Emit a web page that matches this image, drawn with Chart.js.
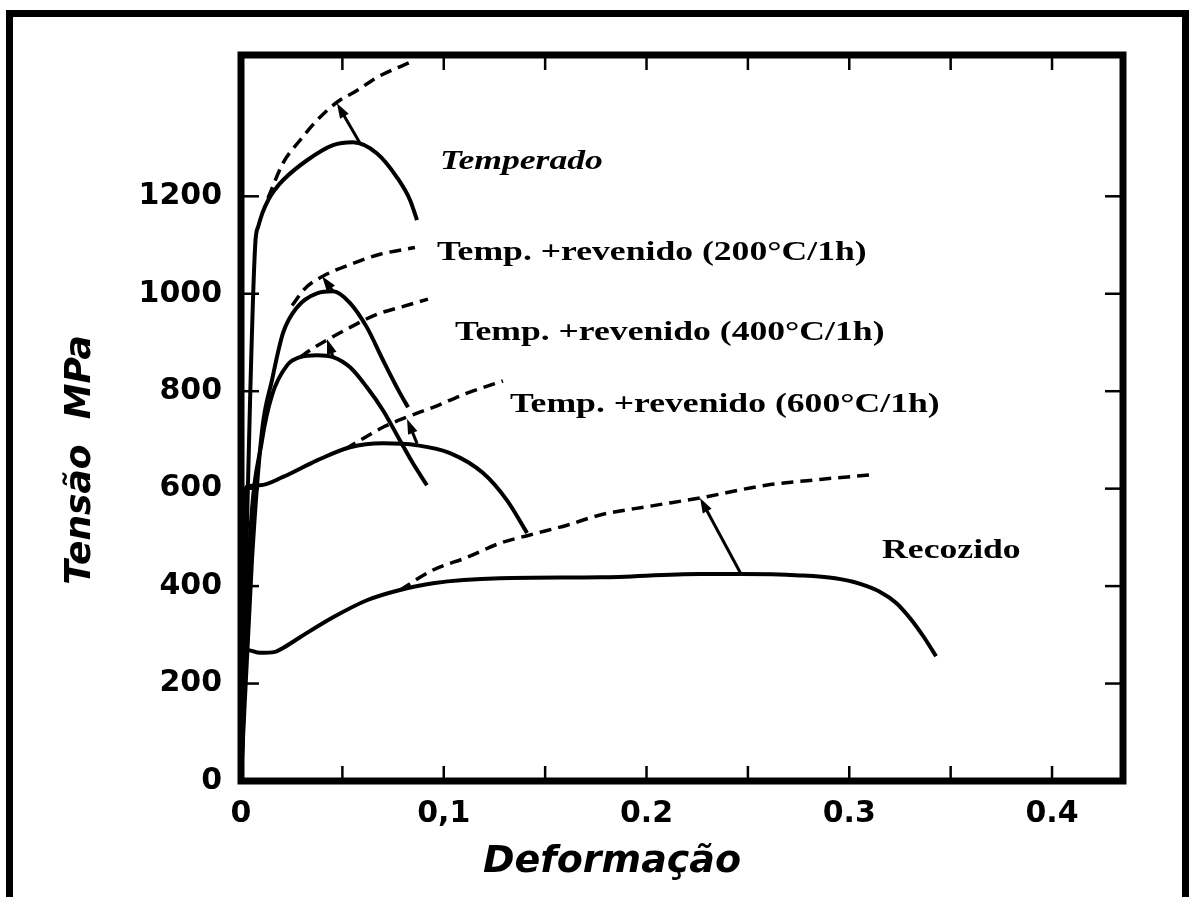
<!DOCTYPE html>
<html>
<head>
<meta charset="utf-8">
<script src="https://cdn.jsdelivr.net/npm/chart.js@4.4.1/dist/chart.umd.min.js"></script>
<style>
  html, body { margin: 0; padding: 0; background: #fff; }
  #wrap { position: relative; width: 1195px; height: 897px; overflow: hidden; }
  #curvas { position: absolute; left: 0; top: 0; }
  #moldura { position: absolute; left: 6px; top: 10px; width: 1169px; height: 900px;
             border: 7px solid #000; border-bottom: none; pointer-events: none; }
</style>
</head>
<body>
<div id="wrap">
  <canvas id="curvas" width="1195" height="897"></canvas>
  <div id="moldura"></div>
</div>
<script>
// eixos
const xMax = 0.435
const yMax = 1490
const xTicks = [0, 0.05, 0.1, 0.15, 0.2, 0.25, 0.3, 0.35, 0.4]
const xTickLabels = ['0', '', '0,1', '', '0.2', '', '0.3', '', '0.4']
const yTicks = [0, 200, 400, 600, 800, 1000, 1200]
const yTickLabels = ['0', '200', '400', '600', '800', '1000', '1200']

// curvas de engenharia (linha cheia) e verdadeiras (tracejada)  [deformacao, tensao MPa]
const temperado = [[0,0],[0.0070,1100],[0.0085,1138],[0.0105,1165],[0.0135,1193],[0.0170,1215],[0.0207,1233],
  [0.0326,1274],[0.0454,1305],[0.0552,1311],[0.0671,1288],[0.0769,1239],[0.0834,1192],[0.0868,1151]]
const temperadoReal = [[0.0133,1196],[0.0207,1268],[0.0291,1315],[0.0375,1356],[0.0473,1393],[0.0572,1417],
  [0.0671,1444],[0.0834,1475]]

const rev200 = [[0,0],[0.0054,453],[0.0104,720],[0.0153,823],[0.0207,919],[0.0276,972],[0.0375,1001],
  [0.0454,1005],[0.0538,981],[0.0621,931],[0.07,864],[0.0784,796],[0.0824,767]]
const rev200Real = [[0.0252,976],[0.0316,1011],[0.0404,1036],[0.0538,1060],[0.0686,1081],[0.0858,1095]]

const rev400 = [[0,0],[0.0044,494],[0.0104,700],[0.0153,792],[0.0227,853],[0.0291,870],[0.0375,874],
  [0.0454,870],[0.0538,849],[0.0621,808],[0.07,761],[0.0784,699],[0.0848,652],[0.0917,607]]
const rev400Real = [[0.0291,870],[0.0355,888],[0.0424,905],[0.0538,931],[0.0671,958],[0.0784,972],[0.0922,989]]

const rev600 = [[0,0],[0.0025,603],[0.0094,607],[0.0207,624],[0.0375,658],[0.0538,685],[0.07,693],
  [0.0868,689],[0.1031,673],[0.1194,632],[0.1312,576],[0.1411,509]]
const rev600Real = [[0.0513,681],[0.0587,699],[0.07,726],[0.0819,747],[0.0947,767],[0.1115,796],[0.1292,821]]

const recozido = [[0,0],[0.003,269],[0.0094,263],[0.0168,265],[0.0207,273],[0.0291,295],[0.0454,336],
  [0.0621,371],[0.0784,392],[0.0947,406],[0.1277,416],[0.1771,418],[0.2264,425],[0.2466,425],
  [0.2757,422],[0.2930,416],[0.3050,405],[0.3152,388],[0.3230,366],[0.3300,334],[0.3370,294],[0.3428,256]]
const recozidoReal = [[0.0784,392],[0.0947,433],[0.1115,459],[0.1277,488],[0.1425,505],[0.1608,525],
  [0.1771,546],[0.2017,564],[0.2264,581],[0.2589,607],[0.2856,619],[0.3097,628]]

// setas: da curva de engenharia ate a curva verdadeira
const setas = [
  [[0.0587,1309],[0.0473,1391]],
  [[0.0454,1005],[0.04,1036]],
  [[0.0454,870],[0.0424,907]],
  [[0.0868,693],[0.0819,743]],
  [[0.2466,425],[0.2264,581]]
]

// rotulos
const rotulos = ['Temperado', 'Temp. +revenido (200°C/1h)', 'Temp. +revenido (400°C/1h)',
  'Temp. +revenido (600°C/1h)', 'Recozido']
const rotulosPos = [[0.0981,1257],[0.0967,1069],[0.1055,905],[0.1327,757],[0.3162,457]]

const xTitulo = 'Deformação'
const yTitulo = 'Tensão  MPa'

/* ================================ */

const serie = (pts, tracejada) => ({
  data: pts.map(p => ({ x: p[0], y: p[1] })),
  showLine: true,
  borderColor: '#000',
  borderWidth: tracejada ? 3.5 : 4,
  borderDash: tracejada ? [12, 7] : [],
  pointRadius: 0,
  cubicInterpolationMode: 'monotone',
  fill: false
})

const extras = {
  id: 'extras',
  afterDraw(chart) {
    const { ctx, chartArea: a, scales: { x, y } } = chart
    ctx.save()
    ctx.strokeStyle = '#000'
    ctx.fillStyle = '#000'
    ctx.lineCap = 'butt'

    const linha = (x1, y1, x2, y2) => { ctx.beginPath(); ctx.moveTo(x1, y1); ctx.lineTo(x2, y2); ctx.stroke() }

    // ticks para dentro, nos quatro lados
    ctx.lineWidth = 2.5
    xTicks.forEach(v => {
      if (v === 0) return
      const px = x.getPixelForValue(v)
      linha(px, a.bottom, px, a.bottom - 15)
      linha(px, a.top, px, a.top + 15)
    })
    yTicks.forEach(v => {
      if (v === 0) return
      const py = y.getPixelForValue(v)
      linha(a.left, py, a.left + 18, py)
      linha(a.right, py, a.right - 18, py)
    })

    // caixa
    ctx.lineWidth = 7
    ctx.strokeRect(a.left, a.top, a.right - a.left, a.bottom - a.top)

    // setas
    ctx.lineWidth = 3
    setas.forEach(s => {
      const x1 = x.getPixelForValue(s[0][0]), y1 = y.getPixelForValue(s[0][1])
      const x2 = x.getPixelForValue(s[1][0]), y2 = y.getPixelForValue(s[1][1])
      const ang = Math.atan2(y2 - y1, x2 - x1)
      linha(x1, y1, x2 - 8 * Math.cos(ang), y2 - 8 * Math.sin(ang))
      ctx.beginPath()
      ctx.moveTo(x2, y2)
      ctx.lineTo(x2 - 15 * Math.cos(ang) + 5 * Math.sin(ang), y2 - 15 * Math.sin(ang) - 5 * Math.cos(ang))
      ctx.lineTo(x2 - 15 * Math.cos(ang) - 5 * Math.sin(ang), y2 - 15 * Math.sin(ang) + 5 * Math.cos(ang))
      ctx.closePath()
      ctx.fill()
    })

    // rotulos das curvas (serifa, esticados na horizontal como no original)
    ctx.textBaseline = 'alphabetic'
    ctx.textAlign = 'left'
    rotulos.forEach((t, i) => {
      const px = x.getPixelForValue(rotulosPos[i][0])
      const py = y.getPixelForValue(rotulosPos[i][1])
      ctx.font = (i === 0 ? 'italic ' : '') + 'bold 27px "Liberation Serif"'
      ctx.save()
      ctx.translate(px, py)
      ctx.scale(1.32, 1)
      ctx.fillText(t, 0, 0)
      ctx.restore()
    })

    // titulos dos eixos
    ctx.font = 'italic bold 38px "DejaVu Sans"'
    ctx.textAlign = 'center'
    ctx.textBaseline = 'middle'
    ctx.fillText(xTitulo, 612, 862)
    ctx.save()
    ctx.translate(81, 460)
    ctx.rotate(-Math.PI / 2)
    ctx.font = 'italic bold 36px "DejaVu Sans"'
    ctx.fillText(yTitulo, 0, 0)
    ctx.restore()

    ctx.restore()
  }
}

const fonteTicks = { family: 'DejaVu Sans', weight: 'bold', size: 30 }

new Chart(document.getElementById('curvas'), {
  type: 'scatter',
  data: {
    datasets: [
      serie(temperado, false), serie(temperadoReal, true),
      serie(rev200, false), serie(rev200Real, true),
      serie(rev400, false), serie(rev400Real, true),
      serie(rev600, false), serie(rev600Real, true),
      serie(recozido, false), serie(recozidoReal, true)
    ]
  },
  options: {
    responsive: false,
    animation: false,
    devicePixelRatio: 1,
    layout: { padding: { left: 0, top: 55, right: 72, bottom: 0 } },
    plugins: { legend: { display: false }, tooltip: { enabled: false } },
    scales: {
      x: {
        type: 'linear', min: 0, max: xMax,
        afterBuildTicks: s => { s.ticks = xTicks.map(v => ({ value: v })) },
        afterFit: s => { s.height = 116 },
        grid: { display: false, drawTicks: false },
        border: { display: false },
        ticks: {
          autoSkip: false, maxRotation: 0, padding: 15, color: '#000', font: fonteTicks,
          callback: v => xTickLabels[xTicks.indexOf(v)]
        }
      },
      y: {
        type: 'linear', min: 0, max: yMax,
        afterBuildTicks: s => { s.ticks = yTicks.map(v => ({ value: v })) },
        afterFit: s => { s.width = 241 },
        grid: { display: false, drawTicks: false },
        border: { display: false },
        ticks: {
          autoSkip: false, padding: 19, color: '#000', font: fonteTicks,
          callback: v => yTickLabels[yTicks.indexOf(v)]
        }
      }
    }
  },
  plugins: [extras]
})
</script>
</body>
</html>
